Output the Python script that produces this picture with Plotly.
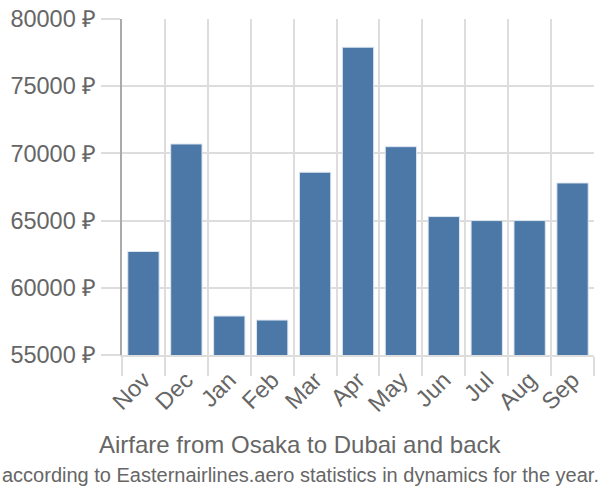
import plotly.graph_objects as go

months = ["Nov", "Dec", "Jan", "Feb", "Mar", "Apr", "May", "Jun", "Jul", "Aug", "Sep"]
prices = [62700, 70700, 57900, 57600, 68600, 77900, 70500, 65300, 65000, 65000, 67800]
y_ticks = [55000, 60000, 65000, 70000, 75000, 80000]
y_tick_labels = [f"{v} ₽" for v in y_ticks]

title = "Airfare from Osaka to Dubai and back"
subtitle = "according to Easternairlines.aero statistics in dynamics for the year."

fig = go.Figure(go.Bar(
    x=months, y=prices,
    marker=dict(color="#4c78a8", line=dict(color="#dde6f0", width=1)),
))

font_family = "Liberation Sans, Arial, sans-serif"

fig.update_layout(
    width=600, height=500,
    margin=dict(l=122, r=6, t=15, b=145),
    paper_bgcolor="white", plot_bgcolor="white",
    bargap=0.27,
    showlegend=False,
    font=dict(family=font_family, color="#666666"),
    xaxis=dict(
        type="category", tickson="boundaries",
        ticks="outside", ticklen=19, tickcolor="#dddddd", tickwidth=2,
        showgrid=True, gridcolor="#dddddd", gridwidth=2,
        tickangle=-45, tickfont=dict(size=23.5, color="#666666"),
        showline=True, linecolor="#dddddd", linewidth=2,
    ),
    yaxis=dict(
        range=[55000, 80000], tickvals=y_ticks, ticktext=y_tick_labels,
        ticks="outside", ticklen=19, tickcolor="#dddddd", tickwidth=2,
        showgrid=True, gridcolor="#dddddd", gridwidth=2,
        tickfont=dict(size=23.5, color="#666666"),
        showline=True, linecolor="#aaaaaa", linewidth=2,
        zeroline=False,
    ),
    annotations=[
        dict(text=title, xref="paper", yref="paper", x=(300-122)/472, y=(355-446)/340,
             xanchor="center", yanchor="middle", showarrow=False,
             font=dict(size=24, color="#666666", family=font_family)),
        dict(text=subtitle, xref="paper", yref="paper", x=(300-122)/472, y=(355-476)/340,
             xanchor="center", yanchor="middle", showarrow=False,
             font=dict(size=20, color="#666666", family=font_family)),
    ],
)

fig.write_html("out.html")
